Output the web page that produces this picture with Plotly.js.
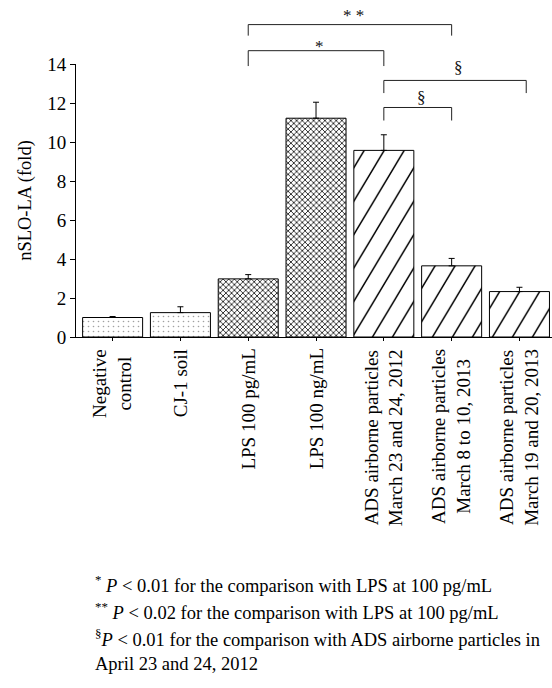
<!DOCTYPE html>
<html>
<head>
<meta charset="utf-8">
<script src="https://cdn.plot.ly/plotly-3.0.1.min.js"></script>
<style>html,body{margin:0;padding:0;background:#fff;}</style>
</head>
<body>
<div id="chart" style="width:552px;height:688px;"></div>
<script>
const categories = [
  'Negative<br>control',
  'CJ-1 soil',
  'LPS 100 pg/mL',
  'LPS 100 ng/mL',
  'ADS airborne particles<br>March 23 and 24, 2012',
  'ADS airborne particles<br>March 8 to 10, 2013',
  'ADS airborne particles<br>March 19 and 20, 2013'
];
const values = [1.0, 1.25, 2.98, 11.22, 9.57, 3.65, 2.33];
const errors = [0.05, 0.30, 0.22, 0.82, 0.80, 0.38, 0.22];
const patternShapes = ['.', '.', 'x', 'x', '/', '/', '/'];
const yTickVals = [0, 2, 4, 6, 8, 10, 12, 14];
const yTitle = 'nSLO-LA (fold)';
const comparisons = [
  {from: 2, to: 5, label: '* *'},
  {from: 2, to: 4, label: '*'},
  {from: 4, to: 6.1, label: '§'},
  {from: 4, to: 5, label: '§'}
];
const footnotes = [
  '<sup>*</sup> <i>P</i> &lt; 0.01 for the comparison with LPS at 100 pg/mL',
  '<sup>**</sup> <i>P</i> &lt; 0.02 for the comparison with LPS at 100 pg/mL',
  '<sup>§</sup><i>P</i> &lt; 0.01 for the comparison with ADS airborne particles in',
  'April 23 and 24, 2012'
];

const FONT = 'Liberation Serif, Times New Roman, serif';
const idx = categories.map((c, i) => i);

const trace = {
  type: 'bar',
  x: idx,
  y: values,
  width: 0.885,
  marker: {
    color: 'white',
    line: {color: 'black', width: 1},
    pattern: {
      shape: patternShapes,
      fgcolor: patternShapes.map(s => s === '.' ? '#a0a0a0' : 'black'),
      bgcolor: 'white',
      size: patternShapes.map(s => s === '.' ? 5 : (s === 'x' ? 4 : 14.14)),
      solidity: patternShapes.map(s => s === '.' ? 0.08 : (s === 'x' ? 0.35 : 0.085)),
      fillmode: 'replace'
    }
  },
  error_y: {
    type: 'data',
    symmetric: false,
    array: errors,
    arrayminus: errors.map(() => 0),
    color: 'black',
    thickness: 1,
    width: 3
  },
  hoverinfo: 'none'
};

// bracket geometry (paper y)
const brY = [
  {top: 1.1443, bot: 1.1039, lab: 1.1773},
  {top: 1.0488, bot: 0.9925, lab: 1.0646},
  {top: 0.9398, bot: 0.8935, lab: 0.9864},
  {top: 0.8407, bot: 0.7930, lab: 0.8763}
];
const shapes = [];
const annotations = [];
comparisons.forEach((c, i) => {
  const g = brY[i];
  const ln = {color: '#222', width: 1};
  shapes.push({type: 'line', xref: 'x', yref: 'paper', x0: c.from, x1: c.to, y0: g.top, y1: g.top, line: ln});
  shapes.push({type: 'line', xref: 'x', yref: 'paper', x0: c.from, x1: c.from, y0: g.top, y1: g.bot, line: ln});
  shapes.push({type: 'line', xref: 'x', yref: 'paper', x0: c.to, x1: c.to, y0: g.top, y1: g.bot, line: ln});
  annotations.push({
    xref: 'x', yref: 'paper', x: (c.from + c.to) / 2 + 0.05, y: g.lab,
    text: c.label, showarrow: false, xanchor: 'center', yanchor: 'middle',
    font: {family: FONT, size: 17, color: '#111'}
  });
});

categories.forEach((c, i) => {
  annotations.push({
    xref: 'x', yref: 'paper', x: i, y: -0.036,
    text: c, textangle: -90, showarrow: false,
    xanchor: 'center', yanchor: 'top', align: 'center',
    font: {family: FONT, size: 19, color: 'black'}
  });
});

const footY = [-0.904, -1.003, -1.102, -1.198];
footnotes.forEach((t, i) => {
  annotations.push({
    xref: 'paper', yref: 'paper', x: 0.036, y: footY[i],
    text: t, showarrow: false, xanchor: 'left', yanchor: 'middle', align: 'left',
    font: {family: FONT, size: 18.5, color: 'black'}
  });
});

const layout = {
  width: 552, height: 688,
  margin: {l: 76, r: 0, t: 64, b: 351, pad: 0},
  paper_bgcolor: 'white', plot_bgcolor: 'white',
  showlegend: false,
  bargap: 0,
  xaxis: {
    range: [-0.54, 6.48],
    tickvals: idx,
    showticklabels: false,
    ticks: 'outside', ticklen: 3, tickcolor: 'black', tickwidth: 1,
    showline: true, linecolor: 'black', linewidth: 1,
    showgrid: false, zeroline: false, fixedrange: true
  },
  yaxis: {
    range: [0, 14],
    tickvals: yTickVals,
    ticks: 'outside', ticklen: 5, tickcolor: 'black', tickwidth: 1,
    showline: true, linecolor: 'black', linewidth: 1,
    showgrid: false, zeroline: false,
    tickfont: {family: FONT, size: 19, color: 'black'},
    title: {text: yTitle, font: {family: FONT, size: 18.5, color: 'black'}, standoff: 10},
    fixedrange: true
  },
  shapes: shapes,
  annotations: annotations
};

Plotly.newPlot('chart', [trace], layout, {staticPlot: true, displayModeBar: false}).then(gd => {
  // steepen the diagonal hatch to match the reference
  gd.querySelectorAll('pattern').forEach(p => {
    if (parseFloat(p.getAttribute('width')) > 15) {
      p.setAttribute('patternTransform', 'scale(1,1.67)');
    }
  });
});
</script>
</body>
</html>
